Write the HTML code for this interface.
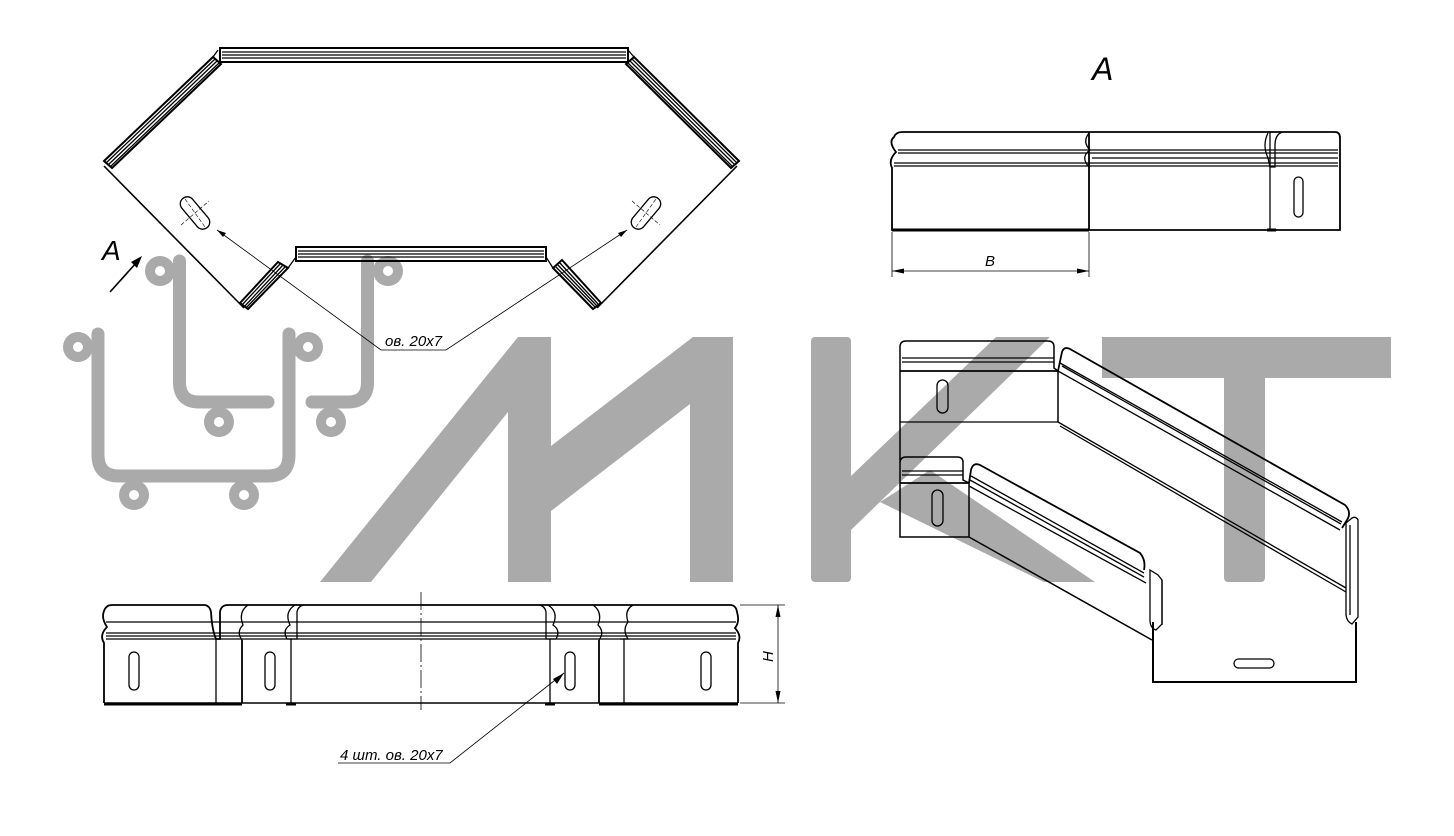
<!DOCTYPE html>
<html><head><meta charset="utf-8">
<style>
html,body{margin:0;padding:0;background:#fff;}
svg{display:block;}
text{font-family:"Liberation Sans","DejaVu Sans",sans-serif;font-style:italic;fill:#000;}
</style></head>
<body>
<svg width="1454" height="836" viewBox="0 0 1454 836" xmlns="http://www.w3.org/2000/svg">
<!-- watermark letters -->
<g fill="#aaaaab">
<polygon points="320,582 371,582 508,412 508,582 551,582 551,511 690,404 690,582 733,582 733,337 693,337 551,446 551,337 518,337"/>
<rect x="811" y="337" width="40" height="245" rx="4"/>
<polygon points="851,476 996,337 1050,337 851,530"/>
<polygon points="880,502 930,470 1095,582 1044,582"/>
<rect x="1102" y="337" width="289" height="41"/>
<rect x="1224" y="337" width="41" height="245" rx="4"/>
</g>
<!-- watermark icon -->
<g fill="none" stroke="#aaaaab" stroke-width="13" stroke-linecap="round">
<path d="M179.5,261 V382 Q179.5,402 199,402 H268"/>
<path d="M367.5,261 V382 Q367.5,402 348,402 H312"/>
<path d="M98,334 V455 Q98,476 119,476 H268 Q289,476 289,455 V334"/>
</g>
<g fill="#aaaaab">
<circle cx="160" cy="271" r="15"/><circle cx="219" cy="422" r="15"/>
<circle cx="388" cy="271" r="15"/><circle cx="331" cy="422" r="15"/>
<circle cx="78" cy="347" r="15"/><circle cx="308" cy="347" r="15"/>
<circle cx="134" cy="495" r="15"/><circle cx="244" cy="495" r="15"/>
</g>
<g fill="#fff">
<circle cx="160" cy="271" r="5"/><circle cx="219" cy="422" r="5"/>
<circle cx="388" cy="271" r="5"/><circle cx="331" cy="422" r="5"/>
<circle cx="78" cy="347" r="5"/><circle cx="308" cy="347" r="5"/>
<circle cx="134" cy="495" r="5"/><circle cx="244" cy="495" r="5"/>
</g>

<!-- TOP LEFT plan view -->
<g fill="none" stroke="#000" stroke-width="1.3">
<rect x="220" y="48" width="408" height="14" stroke-width="2"/>
<line x1="222" y1="52" x2="626" y2="52"/><line x1="222" y1="55" x2="626" y2="55"/><line x1="222" y1="58" x2="626" y2="58"/>
<polygon points="213,57 221,64 112,168 104,161" stroke-width="2"/>
<line x1="215" y1="59" x2="106" y2="163"/><line x1="217" y1="61" x2="108" y2="165"/><line x1="219" y1="63" x2="110" y2="167"/>
<polygon points="634,57 626,64 731,168 739,161" stroke-width="2"/>
<line x1="632" y1="59" x2="737" y2="163"/><line x1="630" y1="61" x2="735" y2="165"/><line x1="628" y1="63" x2="733" y2="167"/>
<path d="M213,57 L218,50 M634,57 L628,50"/>
<rect x="296" y="247" width="250" height="14" stroke-width="2"/>
<line x1="298" y1="251" x2="544" y2="251"/><line x1="298" y1="254" x2="544" y2="254"/><line x1="298" y1="257" x2="544" y2="257"/>
<polygon points="240,303 278,262 288,268 248,309" stroke-width="2"/>
<line x1="242" y1="305" x2="280" y2="264"/><line x1="244" y1="307" x2="283" y2="265"/><line x1="246" y1="308" x2="285" y2="267"/>
<polygon points="553,268 562,260 601,303 593,309" stroke-width="2"/>
<line x1="555" y1="266" x2="595" y2="307"/><line x1="557" y1="264" x2="597" y2="306"/><line x1="559" y1="262" x2="599" y2="305"/>
<path d="M288,268 L296,257 M553,268 L546,257"/>
<line x1="104" y1="166" x2="244" y2="308" stroke-width="1.6"/>
<line x1="737" y1="166" x2="597" y2="308" stroke-width="1.6"/>
<g transform="translate(195,213) rotate(50)"><rect x="-19" y="-7" width="38" height="14" rx="7"/></g>
<g transform="translate(646,213) rotate(-50)"><rect x="-19" y="-7" width="38" height="14" rx="7"/></g>
<g stroke-width="0.6" stroke-dasharray="4,2">
<line x1="181" y1="225" x2="209" y2="201"/><line x1="185" y1="199" x2="205" y2="227"/>
<line x1="632" y1="201" x2="660" y2="225"/><line x1="636" y1="227" x2="656" y2="199"/>
</g>
<g stroke-width="0.8">
<polyline points="217,230 381,350 446,350 627,230"/>
</g>
<polygon points="217,230 226,233 223,237" fill="#000" stroke="none"/>
<polygon points="627,230 618,233 621,237" fill="#000" stroke="none"/>
<line x1="110" y1="292" x2="137" y2="262" stroke-width="1.6"/>
</g>
<polygon points="142,256 131,262 137,268" fill="#000"/>
<text x="102" y="260" font-size="28">А</text>
<text x="385" y="346" font-size="15">ов. 20х7</text>

<!-- VIEW A top right -->
<text x="1092" y="80" font-size="32">А</text>
<g fill="none" stroke="#000" stroke-width="1.3">
<path d="M894,137 Q896,132 902,132 H1335 Q1340,132 1340,138 V230 H892 V168 Q888,160 896,152 Q888,142 894,137 Z" stroke-width="1.8"/>
<line x1="892" y1="230" x2="1089" y2="230" stroke-width="3"/>
<line x1="1089" y1="132" x2="1089" y2="230" stroke-width="1.8"/>
<path d="M1089,133 Q1082,142 1090,150 Q1080,157 1089,167"/>
<line x1="898" y1="150" x2="1338" y2="150"/><line x1="898" y1="153" x2="1338" y2="153"/>
<line x1="1092" y1="158" x2="1338" y2="158"/>
<line x1="894" y1="163" x2="1338" y2="163"/><line x1="894" y1="166" x2="1338" y2="166"/>
<line x1="1270" y1="132" x2="1270" y2="230"/>
<path d="M1268,133 Q1262,145 1268,158 L1270,167 H1275 V145 Q1275,135 1282,132"/>
<rect x="1294" y="177" width="9" height="40" rx="4.5"/>
<line x1="1267" y1="230" x2="1276" y2="230" stroke-width="3"/>
<line x1="892" y1="232" x2="892" y2="277" stroke-width="0.8"/>
<line x1="1089" y1="232" x2="1089" y2="277" stroke-width="0.8"/>
<line x1="892" y1="271" x2="1089" y2="271" stroke-width="0.8"/>
</g>
<polygon points="892,271 904,268.5 904,273.5" fill="#000"/>
<polygon points="1089,271 1077,268.5 1077,273.5" fill="#000"/>
<text x="985" y="266" font-size="15">В</text>

<!-- BOTTOM LEFT side view -->
<g fill="none" stroke="#000" stroke-width="1.3">
<path d="M104,703 V643 Q99,635 107,627 Q101,618 104,611 Q106,605 112,605 H205 Q210,606 211,612 Q212,630 216,639 H220 V612 Q221,605 228,605 H730 Q736,605 737,612 Q740,622 735,628 Q742,636 738,643 V703" stroke-width="1.8"/>
<line x1="104" y1="703" x2="738" y2="703" stroke-width="1.5"/>
<line x1="104" y1="704" x2="242" y2="704" stroke-width="3"/>
<line x1="599" y1="704" x2="738" y2="704" stroke-width="3"/>
<line x1="286" y1="704" x2="296" y2="704" stroke-width="3"/>
<line x1="545" y1="704" x2="555" y2="704" stroke-width="3"/>
<line x1="106" y1="622" x2="736" y2="622"/>
<line x1="106" y1="633" x2="736" y2="633"/><line x1="106" y1="636" x2="736" y2="636"/>
<line x1="106" y1="639" x2="736" y2="639"/>
<line x1="216" y1="639" x2="216" y2="703"/>
<line x1="242" y1="640" x2="242" y2="703" stroke-width="1.8"/>
<path d="M242,640 Q236,632 243,625 Q238,612 248,605"/>
<line x1="291" y1="639" x2="291" y2="703"/>
<path d="M287,639 H297 V612 Q298,606 304,605 M287,639 Q282,630 290,625 Q284,612 295,605"/>
<line x1="550" y1="639" x2="550" y2="703"/>
<path d="M556,639 H546 V612 Q545,606 539,605 M556,639 Q561,630 553,625 Q559,612 548,605"/>
<line x1="599" y1="640" x2="599" y2="703" stroke-width="1.8"/>
<path d="M599,640 Q605,632 598,625 Q603,612 593,605"/>
<line x1="624" y1="639" x2="624" y2="703"/>
<path d="M620,639 H628 Q622,630 628,622 Q624,610 633,605"/>
<rect x="129" y="652" width="10" height="38" rx="5"/>
<rect x="265" y="652" width="10" height="38" rx="5"/>
<rect x="565" y="652" width="10" height="38" rx="5"/>
<rect x="701" y="652" width="10" height="38" rx="5"/>
<line x1="421" y1="592" x2="421" y2="710" stroke-width="0.8" stroke-dasharray="18,3,2,3"/>
<line x1="740" y1="605" x2="785" y2="605" stroke-width="0.8"/>
<line x1="740" y1="703" x2="785" y2="703" stroke-width="0.8"/>
<line x1="778" y1="605" x2="778" y2="703" stroke-width="0.8"/>
<polyline points="564,673 450,763 338,763" stroke-width="0.8"/>
</g>
<polygon points="778,605 775.5,617 780.5,617" fill="#000"/>
<polygon points="778,703 775.5,691 780.5,691" fill="#000"/>
<polygon points="564,673 553,679 557,684" fill="#000"/>
<text x="0" y="0" font-size="15" transform="translate(773,662) rotate(-90)">Н</text>
<text x="340" y="760" font-size="15">4 шт. ов. 20х7</text>

<!-- ISOMETRIC bottom right -->
<g fill="none" stroke="#000" stroke-width="1.3">
<path d="M900,422 V347 Q900,341 906,341 H1048 Q1054,341 1054,347 V368 L1058,371 V422" stroke-width="1.5"/>
<line x1="900" y1="422" x2="1058" y2="422"/>
<line x1="902" y1="358" x2="1054" y2="358"/><line x1="902" y1="362" x2="1054" y2="362"/>
<line x1="900" y1="371" x2="1058" y2="371" stroke-width="1.8"/>
<rect x="937" y="380" width="11" height="33" rx="5.5"/>
<path d="M900,422 V537 H969 V483 L963,480 V462 Q963,457 957,457 H906 Q900,457 900,463" stroke-width="1.5"/>
<line x1="902" y1="471" x2="963" y2="471"/><line x1="902" y1="475" x2="963" y2="475"/>
<line x1="900" y1="483" x2="969" y2="483" stroke-width="1.8"/>
<rect x="932" y="490" width="11" height="36" rx="5.5"/>
<path d="M1058,371 L1062,352 Q1064,346 1070,349 L1345,505 Q1352,512 1347,520 L1342,528" stroke-width="1.8"/>
<line x1="1060" y1="363" x2="1342" y2="522"/>
<line x1="1062" y1="366" x2="1341" y2="524"/>
<line x1="1058" y1="371" x2="1340" y2="530"/>
<line x1="1058" y1="422" x2="1346" y2="588"/>
<line x1="1060" y1="426" x2="1346" y2="592"/>
<path d="M969,483 L971,470 Q973,462 980,465 L1140,553 Q1146,560 1144,570" stroke-width="1.8"/>
<line x1="971" y1="476" x2="1144" y2="573"/>
<line x1="970" y1="480" x2="1144" y2="577"/>
<line x1="969" y1="486" x2="1146" y2="583"/>
<line x1="969" y1="537" x2="1152" y2="640" stroke-width="1.5"/>
<path d="M1153,622 V682 H1356 V622" stroke-width="2"/>
<path d="M1150,570 V620 Q1150,628 1156,630 L1162,624 V580 L1158,575 Z"/>
<path d="M1162,580 V625"/>
<path d="M1346,523 V615 Q1347,622 1352,624 L1358,617 V520 Q1356,516 1352,518 Z"/>
<line x1="1350" y1="525" x2="1350" y2="615"/>
<rect x="1234" y="659" width="40" height="9" rx="4.5"/>
</g>
</svg>
</body></html>
